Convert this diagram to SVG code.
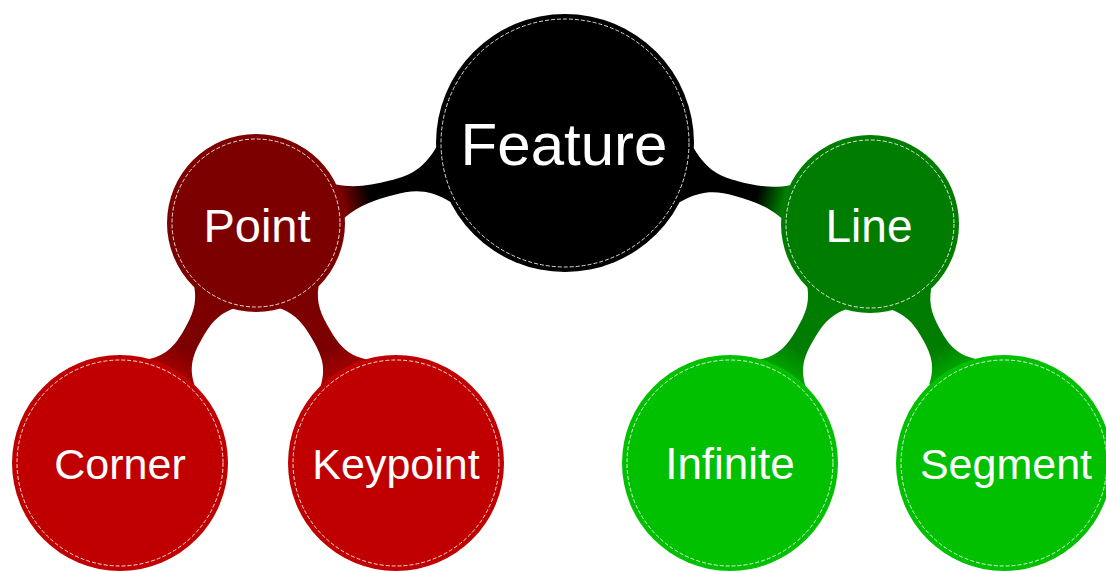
<svg xmlns="http://www.w3.org/2000/svg" width="1106" height="571" viewBox="0 0 1106 571">
<style>
.lbl{font-family:"Liberation Sans","DejaVu Sans",sans-serif;fill:#fff;text-anchor:middle}
.dash{fill:none;stroke:#fff;stroke-width:1;stroke-dasharray:4 2;opacity:0.85}
</style>
<defs>
<linearGradient id="g1" gradientUnits="userSpaceOnUse" x1="129" y1="0" x2="230" y2="0"><stop offset="0" stop-color="#000"/><stop offset="0.72" stop-color="#000"/><stop offset="1" stop-color="#7d0000"/></linearGradient>
<linearGradient id="g2" gradientUnits="userSpaceOnUse" x1="129" y1="0" x2="226" y2="0"><stop offset="0" stop-color="#000"/><stop offset="0.72" stop-color="#000"/><stop offset="1" stop-color="#007d00"/></linearGradient>
<linearGradient id="g3" gradientUnits="userSpaceOnUse" x1="89" y1="0" x2="168" y2="0"><stop offset="0" stop-color="#7d0000"/><stop offset="0.7" stop-color="#7d0000"/><stop offset="1" stop-color="#a00000"/></linearGradient>
<linearGradient id="g4" gradientUnits="userSpaceOnUse" x1="89" y1="0" x2="170" y2="0"><stop offset="0" stop-color="#7d0000"/><stop offset="0.7" stop-color="#7d0000"/><stop offset="1" stop-color="#a00000"/></linearGradient>
<linearGradient id="g5" gradientUnits="userSpaceOnUse" x1="89" y1="0" x2="169" y2="0"><stop offset="0" stop-color="#007d00"/><stop offset="0.7" stop-color="#007d00"/><stop offset="1" stop-color="#00a000"/></linearGradient>
<linearGradient id="g6" gradientUnits="userSpaceOnUse" x1="89" y1="0" x2="165" y2="0"><stop offset="0" stop-color="#007d00"/><stop offset="0.7" stop-color="#007d00"/><stop offset="1" stop-color="#00a000"/></linearGradient>
</defs>
<rect width="1106" height="571" fill="#fff"/>
<g id="connectors">
<path fill="url(#g1)" transform="translate(565,143) rotate(165.5)" d="M100,-28 L125.9,-28 C145,-9 160,-7.5 178.9,-7.5 C198,-7.5 215,-9 231.8,-17 L260,-17 L260,17 L231.8,17 C215,9 198,7.5 178.9,7.5 C160,7.5 145,9 125.9,28 L100,28 Z"/>
<path fill="url(#g2)" transform="translate(565,143) rotate(14.87)" d="M100,-28 L125.9,-28 C145,-9 160,-7.5 177,-7.5 C195,-7.5 212,-9 228.2,-17 L256,-17 L256,17 L228.2,17 C212,9 195,7.5 177,7.5 C160,7.5 145,9 125.9,28 L100,28 Z"/>
<path fill="url(#g3)" transform="translate(256,223) rotate(119.5)" d="M60,-22 L86.2,-22 C100,-11 112,-10 128.6,-10 C145,-10 158,-12 171.1,-26 L200,-26 L200,26 L171.1,26 C158,12 145,10 128.6,10 C112,10 100,11 86.2,22 L60,22 Z"/>
<path fill="url(#g4)" transform="translate(256,223) rotate(59.7)" d="M60,-22 L86.2,-22 C100,-11 112,-10 129.6,-10 C147,-10 160,-12 173,-26 L202,-26 L202,26 L173,26 C160,12 147,10 129.6,10 C112,10 100,11 86.2,22 L60,22 Z"/>
<path fill="url(#g5)" transform="translate(870,224) rotate(120.4)" d="M60,-22 L86.2,-22 C100,-11 112,-10 129.2,-10 C146,-10 159,-12 172.2,-26 L201,-26 L201,26 L172.2,26 C159,12 146,10 129.2,10 C112,10 100,11 86.2,22 L60,22 Z"/>
<path fill="url(#g6)" transform="translate(870,224) rotate(60.9)" d="M60,-22 L86.2,-22 C100,-11 112,-10 127.5,-10 C143,-10 156,-12 168.7,-26 L197,-26 L197,26 L168.7,26 C156,12 143,10 127.5,10 C112,10 100,11 86.2,22 L60,22 Z"/>
</g>
<g id="feature"><circle cx="565" cy="143" r="129" fill="#000"/><circle class="dash" cx="565" cy="143" r="124"/><text class="lbl" x="564" y="165" font-size="60">Feature</text></g>
<g id="point"><circle cx="256" cy="223" r="89" fill="#7d0000"/><circle class="dash" cx="256" cy="223" r="84"/><text class="lbl" x="257" y="242" font-size="47">Point</text></g>
<g id="line"><circle cx="870" cy="224" r="89" fill="#007d00"/><circle class="dash" cx="870" cy="224" r="84"/><text class="lbl" x="869" y="242" font-size="46">Line</text></g>
<g id="corner"><circle cx="120" cy="463" r="108" fill="#c00000"/><circle class="dash" cx="120" cy="463" r="103"/><text class="lbl" x="120" y="479" font-size="43">Corner</text></g>
<g id="keypoint"><circle cx="396" cy="463" r="108" fill="#c00000"/><circle class="dash" cx="396" cy="463" r="103"/><text class="lbl" x="396" y="479" font-size="43">Keypoint</text></g>
<g id="infinite"><circle cx="730" cy="463" r="108" fill="#00c000"/><circle class="dash" cx="730" cy="463" r="103"/><text class="lbl" x="730" y="479" font-size="44">Infinite</text></g>
<g id="segment"><circle cx="1004" cy="463" r="108" fill="#00c000"/><circle class="dash" cx="1004" cy="463" r="103"/><text class="lbl" x="1006" y="479" font-size="43">Segment</text></g>
</svg>
